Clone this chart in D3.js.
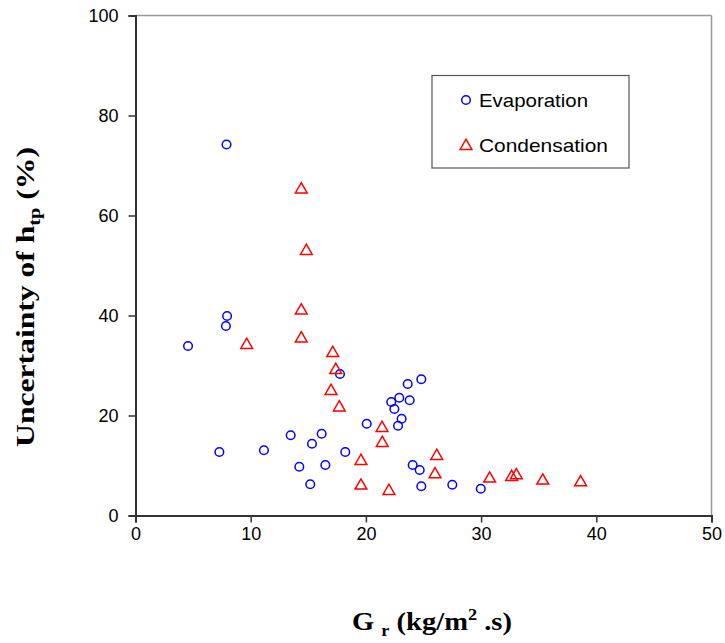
<!DOCTYPE html>
<html><head><meta charset="utf-8">
<script src="https://cdn.jsdelivr.net/npm/d3@7"></script>
<style>body{margin:0;background:#fff}</style>
</head><body>
<svg id="c" width="725" height="643"></svg>
<script>
const evapX = [7.9,7.95,7.85,4.56,7.28,11.15,13.47,14.22,15.17,15.32,16.16,16.48,17.75,18.21,20.07,22.2,22.9,22.47,23.8,23.63,24.81,23.1,22.79,24.06,24.67,24.81,27.5,29.97];
const evapY = [74.2,39.9,37.9,33.9,12.7,13.04,16.04,9.76,6.24,14.36,16.36,10.1,28.3,12.7,18.36,22.7,23.56,21.3,23.04,26.3,27.24,19.36,17.96,10.1,9.1,5.84,6.16,5.36];
const condX = [14.39,14.83,14.39,14.39,9.65,17.12,17.38,16.97,17.69,21.4,21.42,19.57,19.57,22.0,26.15,26.0,30.74,32.65,33.06,35.35,38.64];
const condY = [65.4,53.1,41.2,35.6,34.3,32.7,29.3,25.1,21.8,17.7,14.7,11.1,6.16,5.1,12.1,8.44,7.56,7.9,8.24,7.16,6.84];
const xTicks = [0,10,20,30,40,50];
const yTicks = [0,20,40,60,80,100];
const seriesNames = ["Evaporation","Condensation"];

const svg = d3.select("#c");
const L=135.5, R=711.5, T=15.5, B=515.5;
const x = d3.scaleLinear().domain([0,50]).range([L,R]);
const y = d3.scaleLinear().domain([0,100]).range([B,T]);

svg.append("line").attr("x1",L).attr("x2",R).attr("y1",T).attr("y2",T).attr("stroke","#999").attr("stroke-width",1.5);
svg.append("line").attr("x1",R).attr("x2",R).attr("y1",T).attr("y2",B).attr("stroke","#999").attr("stroke-width",1.5);

const xa = svg.append("g").attr("transform",`translate(0,${B})`)
  .call(d3.axisBottom(x).tickValues(xTicks).tickSize(7).tickPadding(5));
const ya = svg.append("g").attr("transform",`translate(${L},0)`)
  .call(d3.axisLeft(y).tickValues(yTicks).tickSize(7).tickPadding(10));
[xa,ya].forEach(a=>{
  a.select(".domain").attr("stroke","#333").attr("stroke-width",2);
  a.selectAll(".tick line").attr("stroke","#333").attr("stroke-width",1.5);
  a.selectAll("text").attr("font-family","Liberation Sans, Arial, sans-serif").attr("font-size",18).attr("fill","#000");
});

const tri = d3.symbol().type(d3.symbolTriangle).size(60);

svg.append("g").selectAll("circle").data(evapX).join("circle")
  .attr("cx",(d)=>x(d)).attr("cy",(d,i)=>y(evapY[i])).attr("r",4.3)
  .attr("fill","none").attr("stroke","#0000ff").attr("stroke-width",1.5);

svg.append("g").selectAll("path").data(condX).join("path")
  .attr("d",tri).attr("transform",(d,i)=>`translate(${x(d)},${y(condY[i])+1})`)
  .attr("fill","none").attr("stroke","#ff0000").attr("stroke-width",1.5);

// legend
const lg = svg.append("g");
lg.append("rect").attr("x",432).attr("y",75.5).attr("width",197).attr("height",92.5)
  .attr("fill","#fff").attr("stroke","#555").attr("stroke-width",1.2);
lg.append("circle").attr("cx",466).attr("cy",100).attr("r",4.3).attr("fill","none").attr("stroke","#0000ff").attr("stroke-width",1.5);
lg.append("path").attr("d",tri).attr("transform","translate(466,146)").attr("fill","none").attr("stroke","#ff0000").attr("stroke-width",1.5);
const legW = [109,129];
lg.selectAll("text").data(seriesNames).join("text")
  .attr("x",479).attr("y",(d,i)=>107+i*45).text(d=>d)
  .attr("textLength",(d,i)=>legW[i]).attr("lengthAdjust","spacingAndGlyphs")
  .attr("font-family","Liberation Sans, Arial, sans-serif").attr("font-size",19).attr("fill","#000");

// axis titles
function fitScale(sel, target){
  const w = sel.node().getBBox().width;
  return target / w;
}
const xg = svg.append("g");
const xt = xg.append("text").attr("text-anchor","middle")
  .attr("font-family","Liberation Serif, Times New Roman, serif").attr("font-weight","bold").attr("font-size",25);
xt.append("tspan").text("G ");
xt.append("tspan").attr("font-size",16).attr("dy",6).text("r");
xt.append("tspan").attr("dy",-6).text("  (kg/m");
xt.append("tspan").attr("font-size",16).attr("dy",-10).text("2");
xt.append("tspan").attr("dy",10).text(" .s)");
xg.attr("transform",`translate(432,630) scale(${fitScale(xt,160)},1)`);

const yg = svg.append("g");
const yt = yg.append("text").attr("text-anchor","middle")
  .attr("font-family","Liberation Serif, Times New Roman, serif").attr("font-weight","bold").attr("font-size",25);
yt.append("tspan").text("Uncertainty of h");
yt.append("tspan").attr("font-size",16).attr("dy",6).text("tp");
yt.append("tspan").attr("dy",-6).text("  (%)");
yg.attr("transform",`translate(34,297) rotate(-90) scale(${fitScale(yt,300)},1)`);
</script>
</body></html>
